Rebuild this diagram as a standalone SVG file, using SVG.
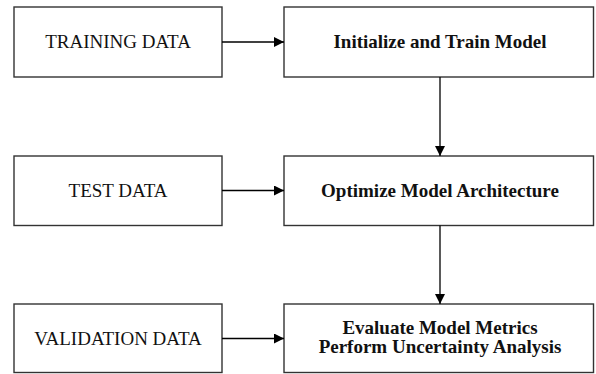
<svg xmlns="http://www.w3.org/2000/svg" width="596" height="374" viewBox="0 0 596 374">
<defs>
<style>
.box{fill:#fff;stroke:#333;stroke-width:1.4}
.lbl{font-family:"Liberation Serif","Times New Roman",serif;font-size:19px;fill:#111;text-anchor:middle}
.b{font-weight:bold}
.conn{stroke:#000;stroke-width:1.3;fill:none;marker-end:url(#ah)}
</style>
<marker id="ah" viewBox="0 0 10 10" refX="10" refY="5" markerWidth="10" markerHeight="10" markerUnits="userSpaceOnUse" orient="auto">
<path d="M0,0 L10,5 L0,10 z" fill="#000"/>
</marker>
</defs>
<rect width="596" height="374" fill="#fff"/>
<g id="training"><rect class="box" x="14" y="7" width="208" height="70"/><text class="lbl" x="118" y="48">TRAINING DATA</text></g>
<g id="init"><rect class="box" x="284" y="7" width="309.5" height="70"/><text class="lbl b" x="440" y="48">Initialize and Train Model</text></g>
<g id="test"><rect class="box" x="14" y="156" width="208" height="69.5"/><text class="lbl" x="118" y="197">TEST DATA</text></g>
<g id="optimize"><rect class="box" x="284" y="156" width="309.5" height="69.5"/><text class="lbl b" x="440" y="197">Optimize Model Architecture</text></g>
<g id="validation"><rect class="box" x="14" y="304" width="208" height="68.5"/><text class="lbl" x="118" y="345">VALIDATION DATA</text></g>
<g id="evaluate"><rect class="box" x="284" y="304" width="309.5" height="68.5"/><text class="lbl b" x="440" y="334">Evaluate Model Metrics</text><text class="lbl b" x="440" y="353">Perform Uncertainty Analysis</text></g>
<g id="connectors">
<line class="conn" x1="222" y1="42" x2="284" y2="42"/>
<line class="conn" x1="222" y1="190.5" x2="284" y2="190.5"/>
<line class="conn" x1="222" y1="338.5" x2="284" y2="338.5"/>
<line class="conn" x1="440" y1="77" x2="440" y2="156"/>
<line class="conn" x1="440" y1="225.5" x2="440" y2="304"/>
</g>
</svg>
